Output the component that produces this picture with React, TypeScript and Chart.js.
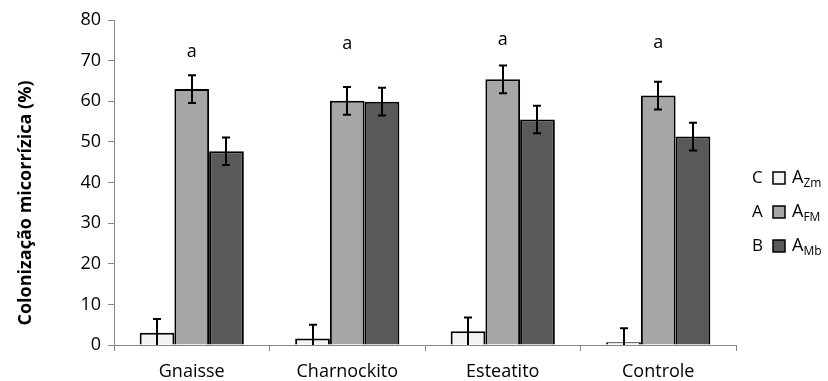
import React, { useEffect, useRef } from "react";
import { Chart, registerables } from "chart.js";

Chart.register(...registerables);

const categories = ["Gnaisse", "Charnockito", "Esteatito", "Controle"];
const seriesNames = ["Zm", "FM", "Mb"];
const legendLetters = ["C", "A", "B"];
const zmValues = [3.0, 1.6, 3.4, 0.7];
const fmValues = [63.0, 60.1, 65.4, 61.4];
const mbValues = [47.7, 59.9, 55.5, 51.3];
const zmErrors = [3.4, 3.4, 3.4, 3.4];
const fmErrors = [3.4, 3.4, 3.4, 3.4];
const mbErrors = [3.4, 3.4, 3.4, 3.4];
const groupLetters = ["a", "a", "a", "a"];
const groupLetterY = [72.2, 74.1, 75.1, 74.4];
const yTicks = [0, 10, 20, 30, 40, 50, 60, 70, 80];
const yTitle = "Colonização micorrízica (%)";

const colors = ["#f2f2f2", "#a6a6a6", "#595959"];
const FONT = "'Open Sans', 'Noto Sans', sans-serif";

const errorBarPlugin = {
  id: "errorBars",
  afterDatasetsDraw(chart: any) {
    const ctx = chart.ctx;
    const errs = [zmErrors, fmErrors, mbErrors];
    const yScale = chart.scales.y;
    ctx.save();
    ctx.strokeStyle = "#000";
    ctx.lineWidth = 2;
    chart.data.datasets.forEach((ds: any, di: number) => {
      const meta = chart.getDatasetMeta(di);
      meta.data.forEach((bar: any, i: number) => {
        const v = ds.data[i];
        const e = errs[di][i];
        const x = Math.round(bar.x);
        const yTop = yScale.getPixelForValue(v + e);
        const yBot = yScale.getPixelForValue(Math.max(0, v - e));
        ctx.beginPath();
        ctx.moveTo(x, yTop);
        ctx.lineTo(x, yBot);
        ctx.moveTo(x - 4, yTop);
        ctx.lineTo(x + 4, yTop);
        if (v - e > 0) {
          ctx.moveTo(x - 4, yBot);
          ctx.lineTo(x + 4, yBot);
        }
        ctx.stroke();
      });
    });
    // group letters
    ctx.fillStyle = "#000";
    ctx.font = `18px ${FONT}`;
    ctx.textAlign = "center";
    ctx.textBaseline = "middle";
    const meta = chart.getDatasetMeta(1);
    meta.data.forEach((bar: any, i: number) => {
      ctx.fillText(groupLetters[i], bar.x, yScale.getPixelForValue(groupLetterY[i]));
    });
    // y title
    ctx.save();
    ctx.translate(26, 203);
    ctx.rotate(-Math.PI / 2);
    ctx.font = `bold 18px ${FONT}`;
    ctx.textAlign = "center";
    ctx.textBaseline = "middle";
    ctx.fillText(yTitle, 0, 0);
    ctx.restore();
    // legend
    const lx = 752;
    const rows = [178, 212, 246];
    rows.forEach((ry, i) => {
      ctx.font = `17px ${FONT}`;
      ctx.textAlign = "left";
      ctx.textBaseline = "middle";
      ctx.fillStyle = "#000";
      ctx.fillText(legendLetters[i], lx, ry);
      ctx.fillStyle = colors[i];
      ctx.fillRect(773, ry - 6, 12, 12);
      ctx.strokeStyle = "#000";
      ctx.lineWidth = 1.5;
      ctx.strokeRect(773, ry - 6, 12, 12);
      ctx.fillStyle = "#000";
      ctx.font = `18px ${FONT}`;
      ctx.fillText("A", 792, ry);
      const w = ctx.measureText("A").width;
      ctx.font = `12px ${FONT}`;
      ctx.fillText(seriesNames[i], 792 + w, ry + 6);
    });
    ctx.restore();
  },
};

export default function App() {
  const ref = useRef<HTMLCanvasElement>(null);
  useEffect(() => {
    if (!ref.current) return;
    const mk = (label: string, data: number[], c: string) => ({
      label,
      data,
      backgroundColor: c,
      borderColor: "#000",
      borderWidth: 2,
      barPercentage: 1.0,
      categoryPercentage: 0.67,
    });
    const chart = new Chart(ref.current, {
      type: "bar",
      data: {
        labels: categories,
        datasets: [
          mk("AZm", zmValues, colors[0]),
          mk("AFM", fmValues, colors[1]),
          mk("AMb", mbValues, colors[2]),
        ],
      },
      options: {
        animation: false,
        responsive: false,
        layout: { padding: { left: 0, right: 92, top: 20, bottom: 0 } },
        plugins: { legend: { display: false }, tooltip: { enabled: false } },
        scales: {
          x: {
            grid: {
              offset: true,
              drawOnChartArea: false,
              drawTicks: true,
              tickLength: 6,
              color: "#868686",
              lineWidth: 1,
            },
            border: { color: "#868686", width: 1 },
            ticks: { color: "#000", font: { family: FONT, size: 18 }, padding: 10 },
            afterFit: (s: any) => {
              s.height = 36;
            },
          },
          y: {
            min: 0,
            max: 80,
            afterBuildTicks: (s: any) => {
              s.ticks = yTicks.map((v) => ({ value: v }));
            },
            grid: {
              drawOnChartArea: false,
              drawTicks: true,
              tickLength: 6,
              color: "#868686",
            },
            border: { color: "#868686", width: 1 },
            ticks: { color: "#000", font: { family: FONT, size: 18 }, padding: 7 },
            afterFit: (s: any) => {
              s.width = 114;
            },
          },
        },
      },
      plugins: [errorBarPlugin],
    });
    return () => chart.destroy();
  }, []);
  return (
    <div style={{ position: "fixed", left: 0, top: 0, width: 828, height: 381, background: "#fff" }}>
      <canvas ref={ref} width={828} height={381} />
    </div>
  );
}
